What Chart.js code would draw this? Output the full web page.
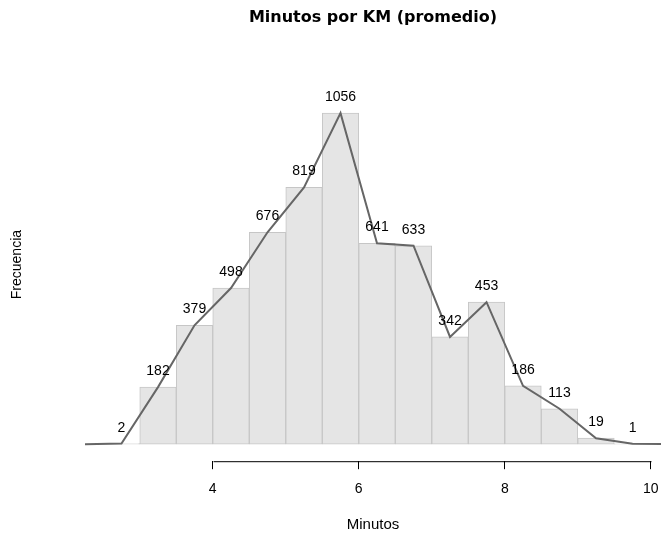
<!DOCTYPE html>
<html>
<head>
<meta charset="utf-8">
<script src="https://cdn.jsdelivr.net/npm/chart.js@4"></script>
<style>
html,body{margin:0;padding:0;background:#fff;}
#wrap{width:661px;height:534px;position:relative;}
</style>
</head>
<body>
<div id="wrap"><canvas id="c" width="661" height="534"></canvas></div>
<script>
// Histogram bins (midpoints) and counts
const binMids = [2.75, 3.25, 3.75, 4.25, 4.75, 5.25, 5.75, 6.25, 6.75, 7.25, 7.75, 8.25, 8.75, 9.25, 9.75];
const counts  = [2, 182, 379, 498, 676, 819, 1056, 641, 633, 342, 453, 186, 113, 19, 1];
// Frequency polygon end points (zero)
const polyStart = 2.25;
const polyEnd = 10.25;
const xTicks = [4, 6, 8, 10];
const titleText = 'Minutos por KM (promedio)';
const xTitle = 'Minutos';
const yTitle = 'Frecuencia';

const barData = binMids.map((m, i) => ({x: m, y: counts[i]}));
const lineData = [{x: polyStart, y: 0}].concat(barData, [{x: polyEnd, y: 0}]);
const FONT = '"Liberation Sans", Arial, sans-serif';

const overlay = {
  id: 'overlay',
  afterDatasetsDraw(chart) {
    const ctx = chart.ctx;
    const xs = chart.scales.x;
    const ys = chart.scales.y;
    ctx.save();
    // data labels above polygon points
    ctx.fillStyle = '#000';
    ctx.font = '14px ' + FONT;
    ctx.textAlign = 'center';
    ctx.textBaseline = 'alphabetic';
    binMids.forEach((m, i) => {
      ctx.fillText(String(counts[i]), xs.getPixelForValue(m), ys.getPixelForValue(counts[i]) - 12);
    });
    // axis line from first to last tick
    const yAx = chart.chartArea.bottom + 0.5;
    ctx.strokeStyle = '#000';
    ctx.lineWidth = 1;
    ctx.beginPath();
    ctx.moveTo(Math.round(xs.getPixelForValue(xTicks[0])) + 0.5, yAx);
    ctx.lineTo(Math.round(xs.getPixelForValue(xTicks[xTicks.length - 1])) + 0.5, yAx);
    ctx.stroke();
    // title
    ctx.font = 'bold 16px "DejaVu Sans", Verdana, sans-serif';
    ctx.fillText(titleText, (chart.chartArea.left + chart.chartArea.right) / 2, 22);
    ctx.restore();
  }
};

new Chart(document.getElementById('c'), {
  data: {
    datasets: [
      {
        type: 'line',
        data: lineData,
        borderColor: '#666666',
        borderWidth: 2,
        pointRadius: 0,
        tension: 0,
        fill: false,
        order: 0
      },
      {
        type: 'bar',
        data: barData,
        backgroundColor: '#e5e5e5',
        borderColor: '#c6c6c6',
        borderWidth: 1,
        borderSkipped: false,
        barPercentage: 1,
        categoryPercentage: 1,
        order: 1
      }
    ]
  },
  options: {
    responsive: false,
    animation: false,
    layout: {padding: {top: 68, right: 0, left: 0, bottom: 0}},
    plugins: {legend: {display: false}, tooltip: {enabled: false}, title: {display: false}},
    scales: {
      x: {
        type: 'linear',
        min: 2.25,
        max: 10.14,
        offset: false,
        afterBuildTicks(scale) { scale.ticks = xTicks.map(v => ({value: v})); },
        afterFit(scale) { scale.paddingRight = 0; scale.paddingLeft = 0; },
        border: {display: false},
        grid: {display: true, offset: false, drawOnChartArea: false, drawTicks: true, tickLength: 8, color: '#000', tickColor: '#000'},
        ticks: {color: '#000', padding: 12, maxRotation: 0, autoSkip: false,
                font: {family: FONT, size: 14}},
        title: {display: true, text: xTitle, color: '#000', padding: {top: 6, bottom: 0},
                font: {family: FONT, size: 15}}
      },
      y: {
        min: -54.4,
        max: 1200,
        afterFit(scale) { scale.width = 85; },
        border: {display: false},
        grid: {display: false},
        ticks: {display: false},
        title: {display: true, text: yTitle, color: '#000', padding: {top: 9, bottom: 0},
                font: {family: FONT, size: 14}}
      }
    }
  },
  plugins: [overlay]
});
</script>
</body>
</html>
